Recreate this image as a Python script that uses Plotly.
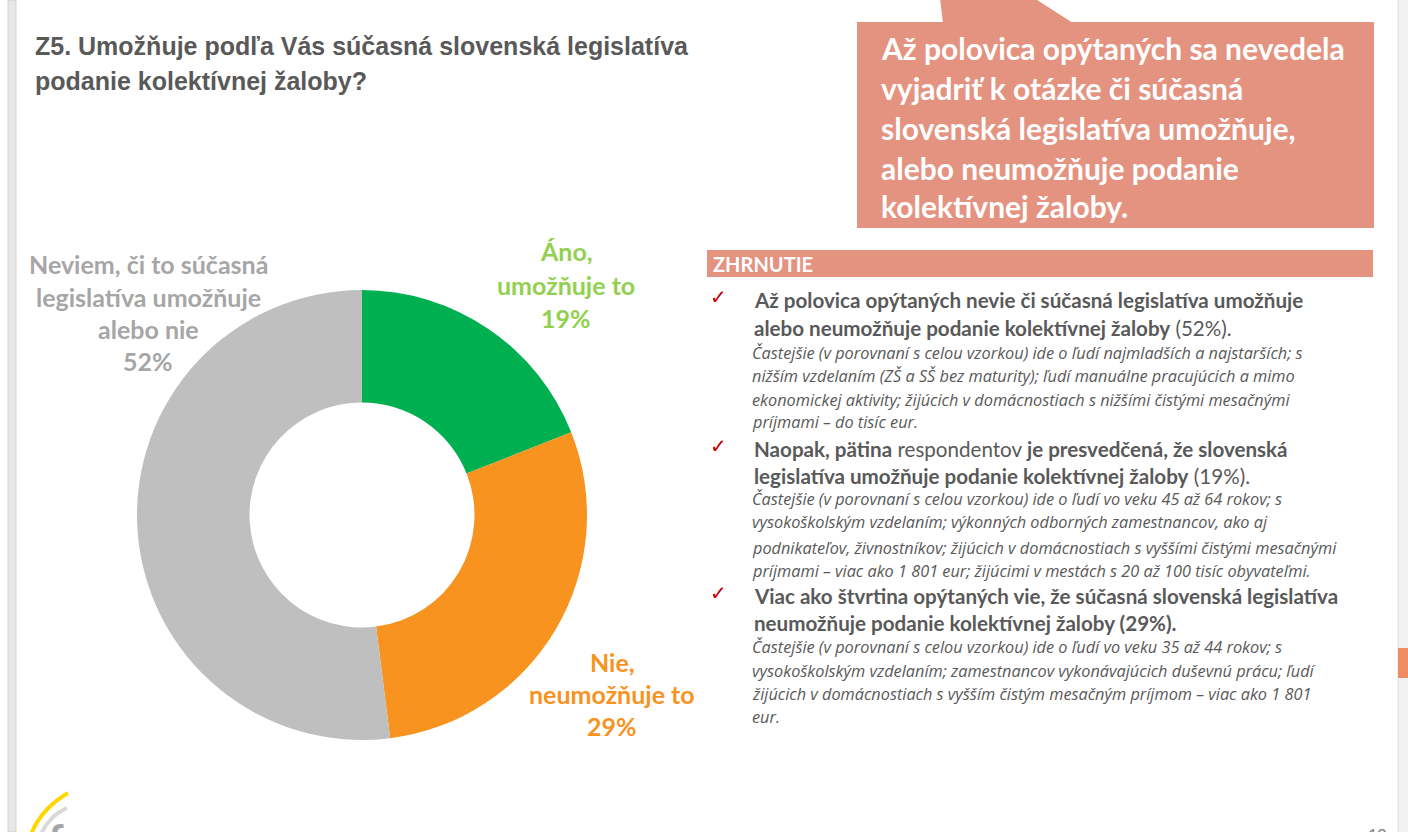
import plotly.graph_objects as go

W, H = 1408, 832

# ---- data ----
categories = ["Áno, umožňuje to", "Nie, neumožňuje to", "Neviem, či to súčasná legislatíva umožňuje alebo nie"]
values = [19, 29, 52]
slice_colors = ["#00B050", "#F7931E", "#BFBFBF"]
label_lines = [["Áno,", "umožňuje to"], ["Nie,", "neumožňuje to"],
               ["Neviem, či to súčasná", "legislatíva umožňuje", "alebo nie"]]
label_colors = ["#92D050", "#F7931E", "#A6A6A6"]

title_lines = ["Z5. Umožňuje podľa Vás súčasná slovenská legislatíva",
               "podanie kolektívnej žaloby?"]
callout_lines = ["Až polovica opýtaných sa nevedela",
                 "vyjadriť k otázke či súčasná",
                 "slovenská legislatíva umožňuje,",
                 "alebo neumožňuje podanie",
                 "kolektívnej žaloby."]
summary_header = "ZHRNUTIE"
bullets = [
    (["<b>Až polovica opýtaných nevie či súčasná legislatíva umožňuje</b>",
      "<b>alebo neumožňuje podanie kolektívnej žaloby</b> (52%)."],
     ["Častejšie (v porovnaní s celou vzorkou) ide o ľudí najmladších a najstarších; s",
      "nižším vzdelaním (ZŠ a SŠ bez maturity); ľudí manuálne pracujúcich a mimo",
      "ekonomickej aktivity; žijúcich v domácnostiach s nižšími čistými mesačnými",
      "príjmami – do tisíc eur."]),
    (["<b>Naopak, pätina</b> respondentov <b>je presvedčená, že slovenská</b>",
      "<b>legislatíva umožňuje podanie kolektívnej žaloby</b> (19%)."],
     ["Častejšie (v porovnaní s celou vzorkou) ide o ľudí vo veku 45 až 64 rokov; s",
      "vysokoškolským vzdelaním; výkonných odborných zamestnancov, ako aj",
      "podnikateľov, živnostníkov; žijúcich v domácnostiach s vyššími čistými mesačnými",
      "príjmami – viac ako 1 801 eur; žijúcimi v mestách s 20 až 100 tisíc obyvateľmi."]),
    (["<b>Viac ako štvrtina opýtaných vie, že súčasná slovenská legislatíva</b>",
      "<b>neumožňuje podanie kolektívnej žaloby (29%).</b>"],
     ["Častejšie (v porovnaní s celou vzorkou) ide o ľudí vo veku 35 až 44 rokov; s",
      "vysokoškolským vzdelaním; zamestnancov vykonávajúcich duševnú prácu; ľudí",
      "žijúcich v domácnostiach s vyšším čistým mesačným príjmom – viac ako 1 801",
      "eur."]),
]
logo_text = "focus"
page_number = "10"


def px(x):
    return x / W


def py(y):
    return 1 - y / H


fig = go.Figure()

# donut: centre ~ (362, 515), outer radius ~225
fig.add_trace(go.Pie(
    labels=categories, values=values, hole=0.5, sort=False, direction="clockwise",
    rotation=0, marker=dict(colors=slice_colors, line=dict(width=0)),
    textinfo="none", hoverinfo="label+percent", showlegend=False,
    domain=dict(x=[px(362 - 225), px(362 + 225)], y=[py(515 + 225), py(515 - 225)]),
))

ann = []
LBL_FONT = "Lato, Open Sans, sans-serif"

# donut labels (positions are layout)
label_pos = [(566, [251, 285]), (612, [662, 694]), (148, [264, 297, 329])]
pct_y = [318, 726, 361]
for i in range(3):
    cx, ys = label_pos[i]
    for line, y in zip(label_lines[i], ys):
        ann.append(dict(x=px(cx), y=py(y), text="<b>%s</b>" % line, showarrow=False,
                        xanchor="center", yanchor="middle",
                        font=dict(family=LBL_FONT, size=25, color=label_colors[i])))
    ann.append(dict(x=px(cx), y=py(pct_y[i]), text="<b>%d%%</b>" % values[i], showarrow=False,
                    xanchor="center", yanchor="middle",
                    font=dict(family=LBL_FONT, size=25, color=label_colors[i])))

# title
for line, y in zip(title_lines, [46, 81]):
    ann.append(dict(x=px(33), y=py(y), text="<b>%s</b>" % line, showarrow=False,
                    xanchor="left", yanchor="middle",
                    font=dict(family="Liberation Sans Narrow, Arial Narrow, Liberation Sans, sans-serif",
                              size=25, color="#595959")))

# callout text
for line, y in zip(callout_lines, [48, 88, 128, 168, 206]):
    ann.append(dict(x=px(879), y=py(y), text="<b>%s</b>" % line, showarrow=False,
                    xanchor="left", yanchor="middle",
                    font=dict(family=LBL_FONT, size=30, color="white")))

# summary header
ann.append(dict(x=px(711), y=py(264), text="<b>%s</b>" % summary_header, showarrow=False,
                xanchor="left", yanchor="middle",
                font=dict(family=LBL_FONT, size=20, color="white")))

bullet_y = [(300, 328, [353, 376, 400, 422]),
            (449, 476, [499, 522, 548, 571]),
            (596, 623, [647, 671, 694, 717])]
for (main, sub), (y1, y2, ys) in zip(bullets, bullet_y):
    ann.append(dict(x=px(708), y=py(y1 - 3), text="<b>✓</b>", showarrow=False,
                    xanchor="left", yanchor="middle",
                    font=dict(family="DejaVu Sans", size=20, color="#C00000")))
    for line, y in zip(main, [y1, y2]):
        ann.append(dict(x=px(752), y=py(y), text=line, showarrow=False,
                        xanchor="left", yanchor="middle",
                        font=dict(family=LBL_FONT, size=20.6, color="#595959")))
    for line, y in zip(sub, ys):
        ann.append(dict(x=px(750), y=py(y), text="<i>%s</i>" % line, showarrow=False,
                        xanchor="left", yanchor="middle",
                        font=dict(family="Open Sans, Lato, sans-serif", size=16.3, color="#595959")))

# logo text (partly cut by the bottom edge, as in the reference) and page number
ann.append(dict(x=px(46), y=py(811), text="<b>%s</b>" % logo_text, showarrow=False,
                xanchor="left", yanchor="top",
                font=dict(family=LBL_FONT, size=44, color="#A6A6A6")))
ann.append(dict(x=px(1366), y=py(822), text=page_number, showarrow=False,
                xanchor="left", yanchor="top",
                font=dict(family=LBL_FONT, size=16, color="#7F7F7F")))

shapes = [
    # callout box + pointer
    dict(type="rect", xref="paper", yref="paper", x0=px(857), x1=px(1374), y0=py(228), y1=py(22),
         fillcolor="#E49381", line=dict(width=0), layer="below"),
    dict(type="path", xref="paper", yref="paper",
         path="M %f %f L %f %f L %f %f L %f %f Z" % (px(940), py(-2), px(943), py(23),
                                                     px(1073), py(23), px(1034), py(-2)),
         fillcolor="#E49381", line=dict(width=0), layer="below"),
    # summary header bar
    dict(type="rect", xref="paper", yref="paper", x0=px(707), x1=px(1373), y0=py(277), y1=py(250),
         fillcolor="#E49381", line=dict(width=0), layer="below"),
    # left window edge
    dict(type="rect", xref="paper", yref="paper", x0=px(8), x1=px(16), y0=0, y1=1,
         fillcolor="#E8E8E8", line=dict(width=1, color="#D0D0D0"), layer="below"),
    # right scrollbar
    dict(type="rect", xref="paper", yref="paper", x0=px(1398), x1=px(1409), y0=-0.01, y1=1.01,
         fillcolor="#F2F2F2", line=dict(width=1, color="#E0E0E0"), layer="below"),
    dict(type="rect", xref="paper", yref="paper", x0=px(1398), x1=px(1408), y0=py(678), y1=py(648),
         fillcolor="#F08C64", line=dict(width=0), layer="below"),
    # logo arcs
    dict(type="path", xref="paper", yref="paper",
         path="M %f %f Q %f %f %f %f" % (px(68), py(793), px(42), py(808), px(31), py(834)),
         line=dict(color="#FFD700", width=4)),
    dict(type="path", xref="paper", yref="paper",
         path="M %f %f Q %f %f %f %f" % (px(67), py(808), px(50), py(815), px(41), py(834)),
         line=dict(color="#D9D9D9", width=4)),
]

fig.update_layout(
    width=W, height=H, margin=dict(l=0, r=0, t=0, b=0),
    paper_bgcolor="white", plot_bgcolor="white",
    annotations=ann, shapes=shapes,
)

fig.write_html("out.html", config=dict(displayModeBar=False),
               post_script="document.body.style.margin='0';document.body.style.overflow='hidden';")
